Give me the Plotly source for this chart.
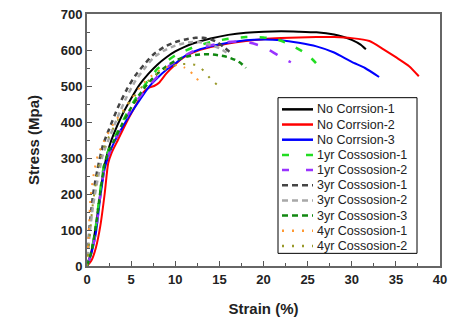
import plotly.graph_objects as go

names = ["No Corrsion-1", "No Corrsion-2", "No Corrsion-3", "1yr Cossosion-1", "1yr Cossosion-2",
         "3yr Cossosion-1", "3yr Cossosion-2", "3yr Cossosion-3", "4yr Cossosion-1", "4yr Cossosion-2"]

nc1_x = [0, 0.5, 1, 1.5, 2, 2.5, 3, 4, 5, 6, 7, 8, 9, 10, 11, 12, 14, 16, 18, 20, 22, 24, 26, 28, 29, 30, 31, 31.6]
nc1_y = [0, 40, 110, 200, 280, 330, 365, 420, 465, 505, 535, 560, 580, 596, 608, 618, 632, 642, 648, 651, 652, 651, 649, 643, 637, 628, 615, 602]

nc2_x = [0, 0.5, 1, 1.5, 2, 2.4, 2.8, 3.5, 4.5, 5.5, 6.4, 7.0, 7.6, 8.2, 9, 10, 11, 12, 14, 16, 18, 20, 22, 24, 26, 28, 30, 32, 33.6, 35, 36.5, 37.6]
nc2_y = [0, 15, 50, 110, 200, 285, 315, 350, 400, 445, 483, 495, 500, 510, 535, 560, 580, 593, 608, 618, 625, 630, 633, 635, 636, 636, 633, 625, 602, 580, 555, 527]

nc3_x = [0, 0.5, 1, 1.5, 2, 2.5, 3, 4, 5, 6, 7, 8, 9, 10, 11, 12, 14, 16, 18, 20, 22, 24, 26, 28, 30, 31.5, 33.1]
nc3_y = [0, 35, 90, 190, 270, 310, 340, 385, 425, 462, 497, 523, 545, 563, 582, 595, 610, 620, 627, 629, 627, 620, 610, 593, 567, 550, 525]

y1a_x = [0, 0.5, 1, 1.5, 2, 2.5, 3, 4, 5, 6, 7, 8, 9, 10, 12, 14, 16, 18, 20, 21.6, 23, 24.5, 25.5, 26.5]
y1a_y = [0, 40, 110, 210, 290, 325, 350, 400, 445, 483, 518, 548, 568, 585, 607, 622, 631, 636, 635, 629, 615, 595, 575, 548]

y1b_x = [0, 0.5, 1, 1.5, 2, 2.5, 3, 4, 5, 6, 7, 8, 9, 10, 12, 14, 16, 17.4, 18.5, 19.7, 21, 22, 23.1]
y1b_y = [0, 35, 95, 195, 275, 312, 340, 390, 435, 470, 500, 527, 550, 568, 596, 613, 622, 624, 620, 611, 595, 580, 566]

y3a_x = [0, 0.3, 0.7, 1.2, 1.8, 2.5, 3.5, 4.5, 5.5, 6.5, 7.5, 8.7, 10, 11.3, 12.3, 13.2, 14, 14.8, 15.5, 16.2]
y3a_y = [0, 110, 200, 270, 335, 380, 440, 490, 530, 560, 587, 608, 622, 630, 634, 634, 630, 621, 608, 594]

y3b_x = [0, 0.3, 0.7, 1.2, 1.8, 2.5, 3.5, 4.5, 5.5, 6.5, 7.5, 8.7, 10, 11, 12, 13, 14, 15, 16]
y3b_y = [0, 90, 170, 240, 310, 355, 415, 470, 515, 548, 578, 598, 612, 619, 622, 621, 614, 605, 590]

y3c_x = [0, 0.5, 1, 1.5, 2, 2.5, 3, 4, 5, 6, 7, 8, 9, 10, 11, 12, 13, 14, 15, 16, 17, 17.5, 18]
y3c_y = [0, 40, 110, 205, 285, 320, 345, 395, 440, 478, 510, 535, 555, 570, 580, 585, 588, 588, 585, 580, 570, 562, 550]

y4a_x = [0, 0.2, 0.4, 0.8, 1.2, 1.9, 3, 4.2, 5.2, 6.1, 7, 8, 9, 10.2, 11, 11.7, 12.3, 13]
y4a_y = [0, 97, 190, 260, 305, 345, 395, 435, 470, 500, 522, 540, 552, 558, 552, 540, 525, 503]

y4b_x = [0, 0.3, 0.6, 1, 1.5, 2.5, 3.5, 5, 6.5, 8, 9.5, 10.5, 11.5, 12.6, 13.3, 14, 14.9]
y4b_y = [0, 80, 160, 230, 300, 360, 405, 460, 505, 535, 553, 560, 561, 557, 540, 520, 500]

xs = [nc1_x, nc2_x, nc3_x, y1a_x, y1b_x, y3a_x, y3b_x, y3c_x, y4a_x, y4b_x]
ys = [nc1_y, nc2_y, nc3_y, y1a_y, y1b_y, y3a_y, y3b_y, y3c_y, y4a_y, y4b_y]

colors = ["#000000", "#ff0000", "#0000ff", "#22dd22", "#9933ff",
          "#444444", "#a8a8a8", "#118811", "#ff9933", "#99992a"]
dashes = ["solid", "solid", "solid", "7px,12px", "9px,13px",
          "5px,4px", "5px,4px", "5px,4px", "2px,7px", "2px,8px"]
widths = [2, 2, 2, 2.5, 2.5, 2.5, 2.5, 2.5, 2, 2]
legend_dashes = ["solid", "solid", "solid", "7px,17px", "7px,17px",
                 "6px,4px", "6px,4px", "6px,4px", "2px,8px", "2px,8px"]

fig = go.Figure()
for n, x, y, c, d, w in zip(names, xs, ys, colors, dashes, widths):
    fig.add_trace(go.Scatter(x=x, y=y, mode="lines", name=n, showlegend=False,
                             line=dict(color=c, dash=d, width=w, shape="spline", smoothing=0.6)))

# Legend drawn as a box of line samples and labels (paper coordinates)
L, R, T, B = 87.0, 440.0, 7.0, 266.0
def px(xp):
    return (xp - L) / (R - L)
def py(yp):
    return (B - yp) / (B - T)

shapes = [dict(type="rect", xref="paper", yref="paper", x0=px(278), x1=px(417), y0=py(253), y1=py(93),
               line=dict(color="#000000", width=1), fillcolor="white", layer="above")]
annotations = []
for i, (n, c, d) in enumerate(zip(names, colors, legend_dashes)):
    yc = 105 + i * 15.6
    shapes.append(dict(type="line", xref="paper", yref="paper", x0=px(282), x1=px(313),
                       y0=py(yc), y1=py(yc), line=dict(color=c, dash=d, width=2.5), layer="above"))
    annotations.append(dict(xref="paper", yref="paper", x=px(315), y=py(yc), text=n, showarrow=False,
                            xanchor="left", yanchor="middle",
                            font=dict(family="Arial", size=12.5, color="#222222")))

axfont = dict(family="Arial", size=13, color="#222222", weight="bold")
fig.update_layout(
    width=458, height=330,
    margin=dict(l=87, r=18, t=7, b=64),
    paper_bgcolor="white", plot_bgcolor="white",
    font=dict(family="Arial", color="#222222"),
    showlegend=False,
    shapes=shapes, annotations=annotations,
    xaxis=dict(range=[0, 40], dtick=5, tick0=0, ticks="inside", ticklen=5, tickwidth=1,
               tickcolor="#555555", showline=True, linecolor="#666666", linewidth=2, mirror=True,
               showgrid=False, zeroline=False, tickfont=axfont,
               minor=dict(dtick=2.5, ticks="inside", ticklen=3, tickcolor="#555555"),
               title=dict(text="Strain (%)", font=dict(family="Arial", size=15, color="#222222", weight="bold"), standoff=18)),
    yaxis=dict(range=[0, 700], dtick=100, tick0=0, ticks="inside", ticklen=5, tickwidth=1,
               tickcolor="#555555", showline=True, linecolor="#666666", linewidth=2, mirror=True,
               showgrid=False, zeroline=False, tickfont=axfont,
               minor=dict(dtick=50, ticks="inside", ticklen=3, tickcolor="#555555"),
               title=dict(text="Stress (Mpa)", font=dict(family="Arial", size=15, color="#222222", weight="bold"), standoff=17)),
)

fig.write_html("out.html")
